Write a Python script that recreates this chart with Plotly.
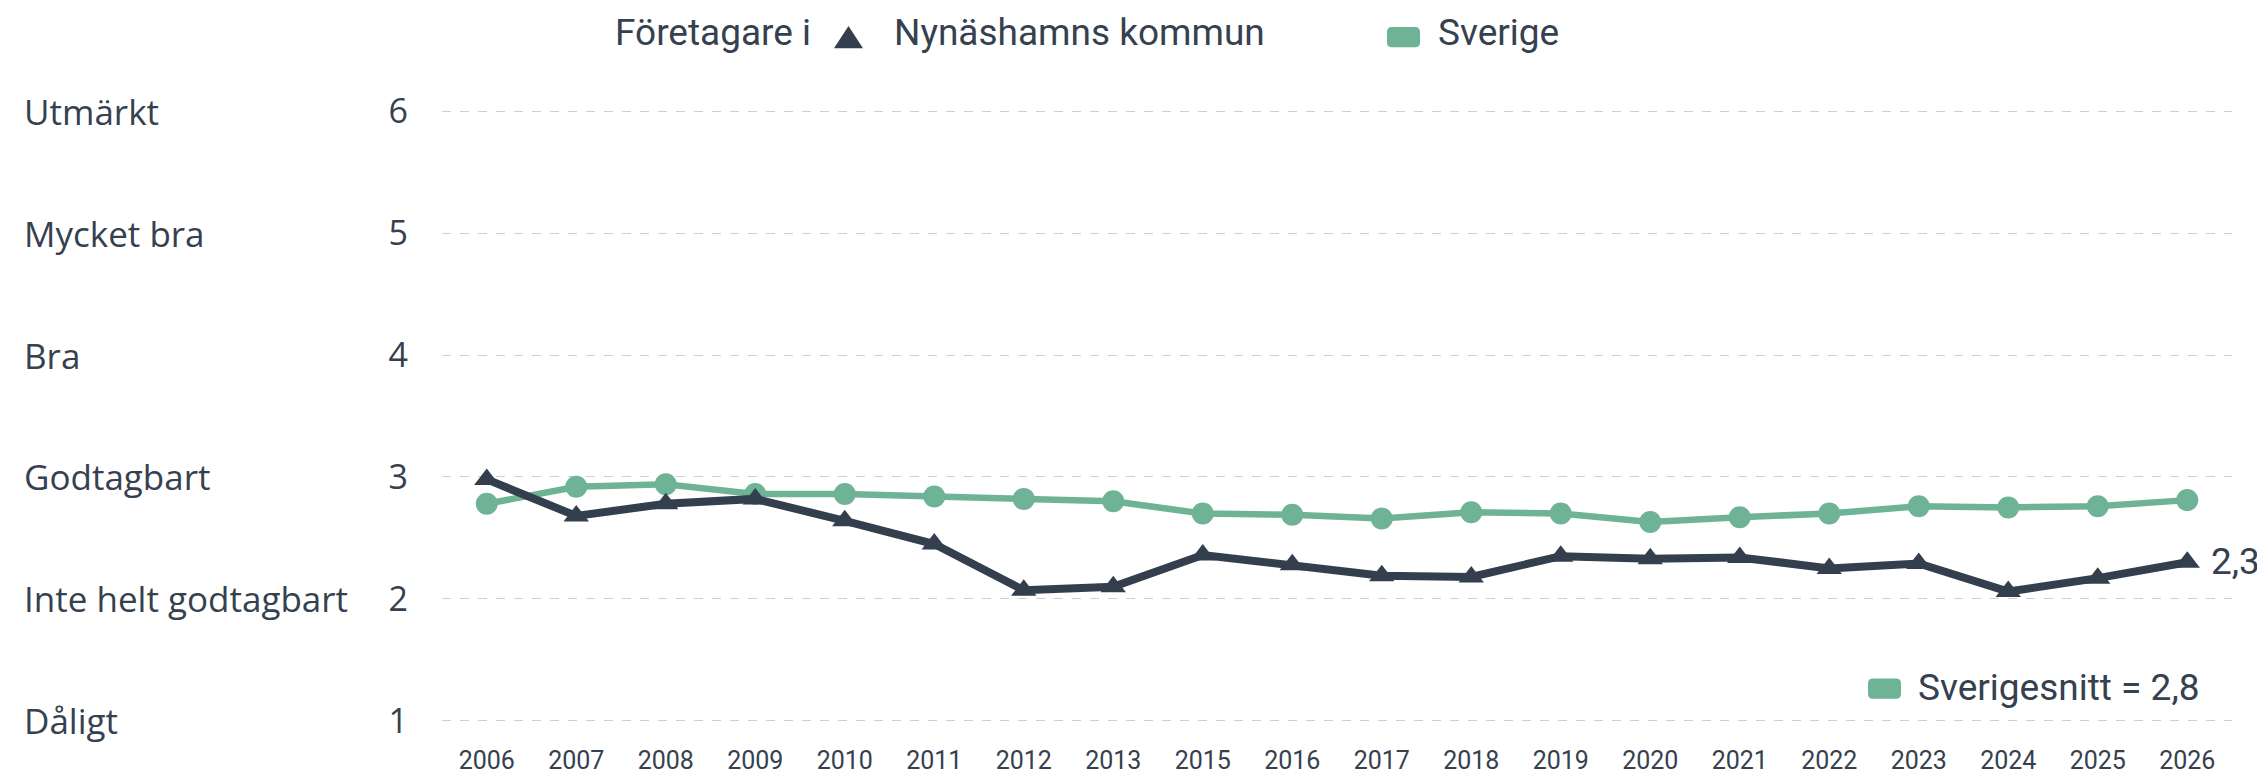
import plotly.graph_objects as go

# ---- data ----
years = ["2006", "2007", "2008", "2009", "2010", "2011", "2012", "2013", "2015", "2016",
         "2017", "2018", "2019", "2020", "2021", "2022", "2023", "2024", "2025", "2026"]
nynashamn = [2.98, 2.68, 2.78, 2.82, 2.64, 2.45, 2.07, 2.10, 2.36, 2.28,
             2.19, 2.18, 2.35, 2.33, 2.34, 2.25, 2.29, 2.06, 2.17, 2.30]
sverige = [2.78, 2.92, 2.94, 2.86, 2.86, 2.84, 2.82, 2.80, 2.70, 2.69,
           2.66, 2.71, 2.70, 2.63, 2.67, 2.70, 2.76, 2.75, 2.76, 2.81]
grade_values = [1, 2, 3, 4, 5, 6]
grade_labels = ["Dåligt", "Inte helt godtagbart", "Godtagbart", "Bra", "Mycket bra", "Utmärkt"]
series_names = ["Nynäshamns kommun", "Sverige"]
legend_prefix = "Företagare i"
last_label = "2,3"
avg_label = "Sverigesnitt = 2,8"

# ---- style ----
DARK = "#343f4d"
GREEN = "#6fb396"
TEXT = "#35414f"
FW, FH = 2265, 779
L, R, T, B = 434, 2224, 102, 736
W, H = R - L, B - T


def px_x(px):
    return (px - L) / W


def px_y(py):
    return (B - py) / H


fig = go.Figure()
fig.add_trace(go.Scatter(
    x=years, y=sverige, mode="lines+markers", name=series_names[1],
    line=dict(color=GREEN, width=6.5), marker=dict(symbol="circle", size=22, color=GREEN),
    cliponaxis=False, showlegend=False))
fig.add_trace(go.Scatter(
    x=years, y=nynashamn, mode="lines+markers", name=series_names[0],
    line=dict(color=DARK, width=8), marker=dict(symbol="triangle-up", size=22, color=DARK),
    cliponaxis=False, showlegend=False))

annotations = []
for v, lab in zip(grade_values, grade_labels):
    annotations.append(dict(x=px_x(14), xref="paper", y=v, yref="y", text=lab,
                            xanchor="left", yanchor="middle", showarrow=False,
                            font=dict(family="Open Sans", size=35, color=TEXT)))

annotations.append(dict(x=len(years) - 1, y=nynashamn[-1], xref="x", yref="y", text=last_label,
                        xanchor="left", yanchor="middle", xshift=22, yshift=1, showarrow=False,
                        font=dict(family="Roboto", size=37, color=TEXT)))

# top legend
annotations.append(dict(x=px_x(605), y=px_y(22), xref="paper", yref="paper", text=legend_prefix,
                        xanchor="left", yanchor="middle", showarrow=False,
                        font=dict(family="Roboto", size=37, color=TEXT)))
annotations.append(dict(x=px_x(884), y=px_y(22), xref="paper", yref="paper", text=series_names[0],
                        xanchor="left", yanchor="middle", showarrow=False,
                        font=dict(family="Roboto", size=37, color=TEXT)))
annotations.append(dict(x=px_x(1428), y=px_y(22), xref="paper", yref="paper", text=series_names[1],
                        xanchor="left", yanchor="middle", showarrow=False,
                        font=dict(family="Roboto", size=37, color=TEXT)))
# bottom-right average legend
annotations.append(dict(x=px_x(1908), y=px_y(700), xref="paper", yref="paper", text=avg_label,
                        xanchor="left", yanchor="middle", showarrow=False,
                        font=dict(family="Roboto", size=37, color=TEXT)))


def rounded_rect(x0, y0, x1, y1, r):
    pts = [
        f"M{px_x(x0 + r)},{px_y(y0)}",
        f"L{px_x(x1 - r)},{px_y(y0)}",
        f"Q{px_x(x1)},{px_y(y0)} {px_x(x1)},{px_y(y0 + r)}",
        f"L{px_x(x1)},{px_y(y1 - r)}",
        f"Q{px_x(x1)},{px_y(y1)} {px_x(x1 - r)},{px_y(y1)}",
        f"L{px_x(x0 + r)},{px_y(y1)}",
        f"Q{px_x(x0)},{px_y(y1)} {px_x(x0)},{px_y(y1 - r)}",
        f"L{px_x(x0)},{px_y(y0 + r)}",
        f"Q{px_x(x0)},{px_y(y0)} {px_x(x0 + r)},{px_y(y0)}",
        "Z",
    ]
    return " ".join(pts)


shapes = [
    dict(type="path", xref="paper", yref="paper",
         path=f"M{px_x(826)},{px_y(38)} L{px_x(855)},{px_y(38)} L{px_x(840.5)},{px_y(15)} Z",
         fillcolor=DARK, line=dict(width=0)),
    dict(type="path", xref="paper", yref="paper", path=rounded_rect(1379, 16, 1412, 37, 5),
         fillcolor=GREEN, line=dict(width=0)),
    dict(type="path", xref="paper", yref="paper", path=rounded_rect(1860, 691, 1893, 712, 5),
         fillcolor=GREEN, line=dict(width=0)),
]

fig.update_layout(
    width=FW, height=FH,
    margin=dict(l=L, r=FW - R, t=T, b=FH - B),
    paper_bgcolor="white", plot_bgcolor="white",
    annotations=annotations, shapes=shapes,
    showlegend=False,
    xaxis=dict(type="category", categoryorder="array", categoryarray=years,
               range=[-0.5, len(years) - 0.5], showgrid=False, zeroline=False, showline=False,
               ticks="", tickfont=dict(family="Roboto", size=25, color=TEXT),
               ticklabelstandoff=21),
    yaxis=dict(range=[0.99, 6.01], tickvals=grade_values, ticktext=[str(v) for v in grade_values],
               showgrid=True, gridcolor="#cfcfcf", gridwidth=1, griddash="dash",
               zeroline=False, showline=False, ticks="",
               tickfont=dict(family="Open Sans", size=34, color=TEXT),
               ticklabelstandoff=33),
)

fig.write_html("out.html")
